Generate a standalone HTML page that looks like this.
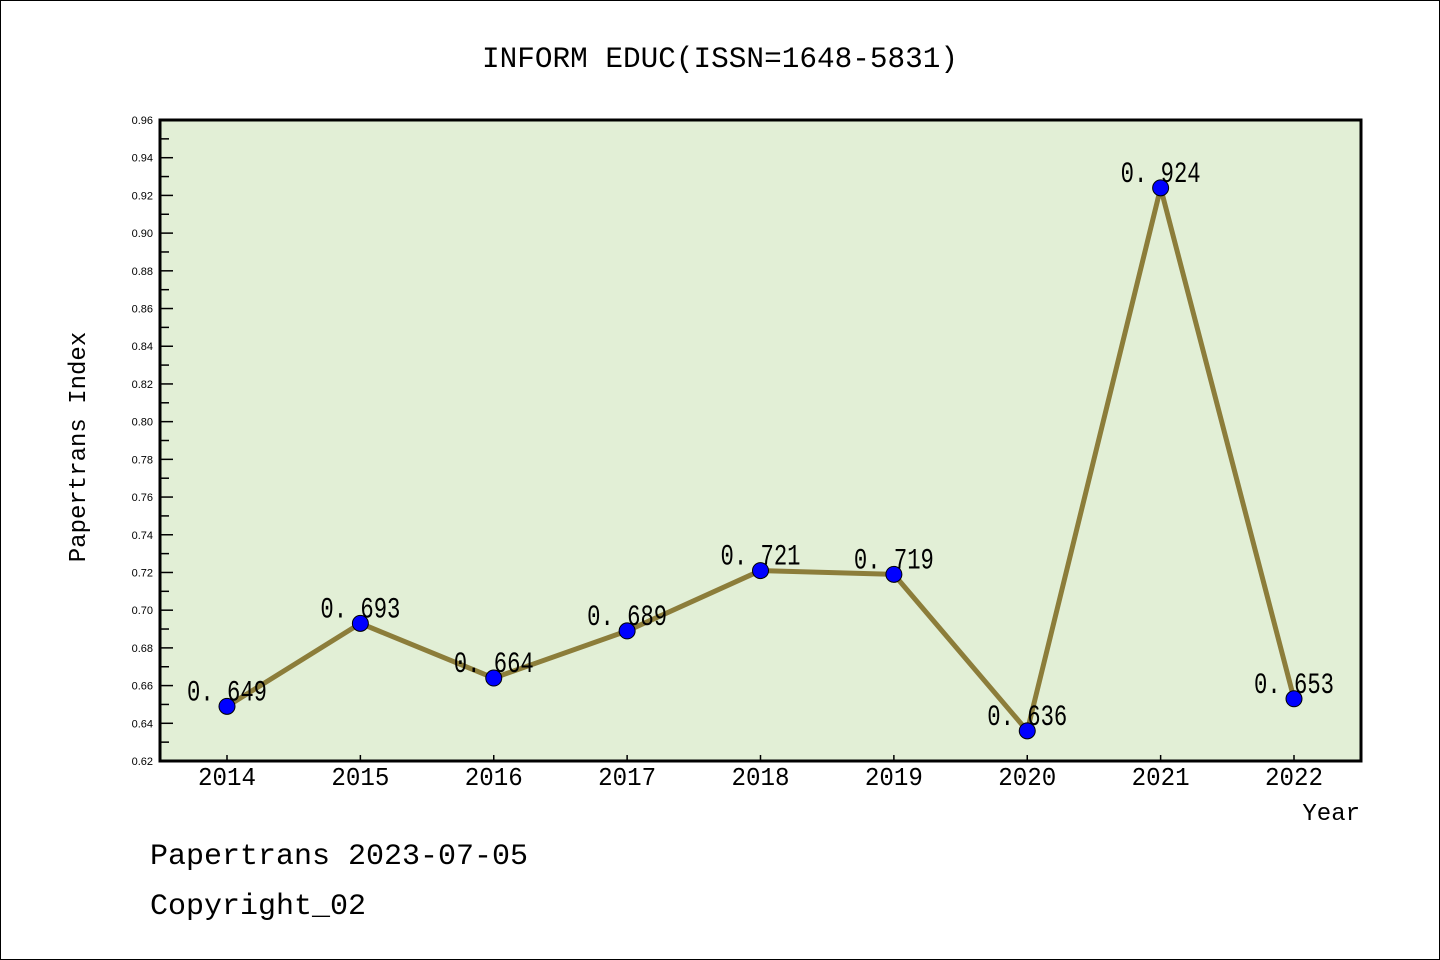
<!DOCTYPE html>
<html><head><meta charset="utf-8"><style>
html,body{margin:0;padding:0;background:#fff}
svg{display:block}
text{font-family:"Liberation Mono","Noto Sans CJK SC",monospace;fill:#000}
</style></head><body>
<svg id="chart" width="1440" height="960">
<rect x="0.5" y="0.5" width="1439" height="959" fill="#fff" stroke="#000"/>
<text x="720" y="67" font-size="30" text-anchor="middle" textLength="476" lengthAdjust="spacingAndGlyphs">INFORM EDUC(ISSN=1648-5831)</text>
<rect x="160" y="120" width="1201" height="641" fill="#e2efd6" stroke="#000" stroke-width="3"/>
<g id="axes"></g>
<g id="series"></g>
<text transform="translate(85,447) rotate(-90)" font-size="24" text-anchor="middle">Papertrans Index</text>
<text x="1360" y="820" font-size="24" text-anchor="end">Year</text>
<text x="150" y="864" font-size="30">Papertrans 2023-07-05</text>
<text x="150" y="914" font-size="30">Copyright_02</text>
</svg>
<script>
const years=["2014","2015","2016","2017","2018","2019","2020","2021","2022"];
const values=[0.649,0.693,0.664,0.689,0.721,0.719,0.636,0.924,0.653];
const yTicks=[0.62,0.64,0.66,0.68,0.70,0.72,0.74,0.76,0.78,0.80,0.82,0.84,0.86,0.88,0.90,0.92,0.94,0.96];
const NS="http://www.w3.org/2000/svg";
const L=160,R=1361,T=120,B=761,YMIN=0.62,YMAX=0.96;
function ys(v){return B-(v-YMIN)/(YMAX-YMIN)*(B-T);}
function xs(i){return 227+i*(1294-227)/(years.length-1);}
function mk(tag,attrs,parent){const e=document.createElementNS(NS,tag);for(const k in attrs)e.setAttribute(k,attrs[k]);parent.appendChild(e);return e;}
const ax=document.getElementById('axes'),se=document.getElementById('series');
yTicks.forEach((v,i)=>{
  const y=ys(v);
  const t=mk('line',{x1:L,x2:L+13,y1:y,y2:y,stroke:'#000','stroke-width':1.5},ax);
  
  
  const lb=mk('text',{x:153,y:y+4,'font-size':11,'text-anchor':'end',style:'font-family:"Liberation Sans",sans-serif'},ax);
  
  
  lb.textContent=v.toFixed(2);
  if(i<yTicks.length-1){
    const ym=ys(v+0.01);
    const m=mk('line',{x1:L,x2:L+9,y1:ym,y2:ym,stroke:'#000','stroke-width':1.5},ax);
    
    
  }
});
years.forEach((yr,i)=>{
  const x=xs(i);
  const t=mk('line',{x1:x,x2:x,y1:B,y2:B-6,stroke:'#000','stroke-width':1.5},ax);
  
  
  const lb=mk('text',{x:x,y:785,'font-size':26,'text-anchor':'middle',textLength:58,lengthAdjust:'spacingAndGlyphs'},ax);
  
  
  lb.textContent=yr;
});
const pts=values.map((v,i)=>xs(i)+','+ys(v)).join(' ');
const line=mk('polyline',{points:pts,fill:'none',stroke:'#8c7d3a','stroke-width':5,'stroke-linejoin':'round'},se);


values.forEach((v,i)=>{
  const c=mk('circle',{cx:xs(i),cy:ys(v),r:8,fill:'#0000ff',stroke:'#000','stroke-width':1},se);
  
  
  const lb=mk('text',{x:xs(i),y:ys(v)-6,'font-size':30,'text-anchor':'middle',textLength:80,lengthAdjust:'spacingAndGlyphs'},se);
  
  
  lb.textContent=v.toFixed(3).replace('.','. ');
});
</script>
</body></html>
